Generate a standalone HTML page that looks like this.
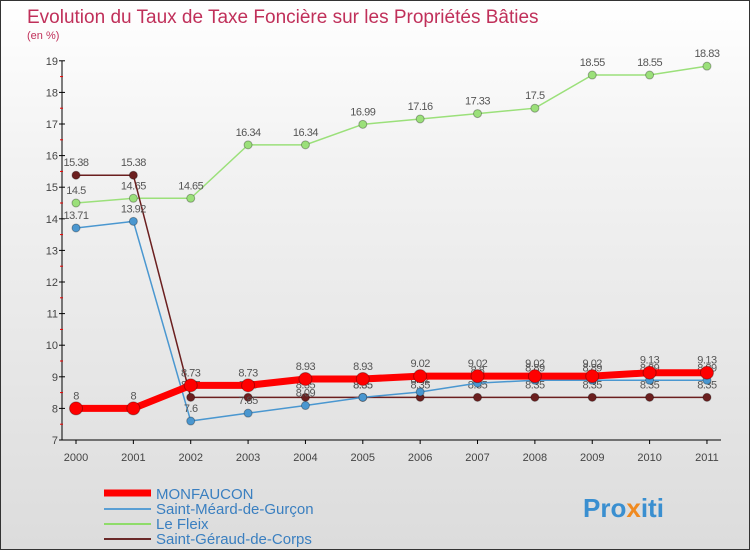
<!DOCTYPE html>
<html><head><meta charset="utf-8"><style>
body{margin:0}
#c{position:relative;width:748px;height:548px;border:1px solid #333;background:linear-gradient(#fff 0%,#f2f2f2 30%,#dcdcdc 100%);font-family:"Liberation Sans",sans-serif;overflow:hidden}
</style></head><body>
<div id="c">
<svg width="748" height="548" id="s">
<text x="26" y="22" font-size="19" fill="#c0305a">Evolution du Taux de Taxe Foncière sur les Propriétés Bâties</text>
<text x="26" y="38" font-size="11" fill="#c0305a">(en %)</text>
<g id="ax"></g><g id="ser"></g>
<g>
<line x1="103" y1="492" x2="150" y2="492" stroke="#f00" stroke-width="7"/>
<text x="155" y="498" font-size="15" fill="#3a7fc0">MONFAUCON</text>
<line x1="103" y1="508" x2="150" y2="508" stroke="#5a9fd4" stroke-width="2"/>
<text x="155" y="513" font-size="15" fill="#3a7fc0">Saint-Méard-de-Gurçon</text>
<line x1="103" y1="523" x2="150" y2="523" stroke="#8fdc6a" stroke-width="2"/>
<text x="155" y="528" font-size="15" fill="#3a7fc0">Le Fleix</text>
<line x1="103" y1="538" x2="150" y2="538" stroke="#6b2a2a" stroke-width="2"/>
<text x="155" y="543" font-size="15" fill="#3a7fc0">Saint-Géraud-de-Corps</text>
</g>
<text x="582" y="516" font-size="26" font-weight="bold" fill="#3a8fd0">Pro<tspan fill="#f08a20">x</tspan>iti</text>
</svg>
</div>
<script>
const years=["2000","2001","2002","2003","2004","2005","2006","2007","2008","2009","2010","2011"];
const yTicks=[7,8,9,10,11,12,13,14,15,16,17,18,19];
const monfaucon=[8,8,8.73,8.73,8.93,8.93,9.02,9.02,9.02,9.02,9.13,9.13];
const saintMeard=[13.71,13.92,7.6,7.85,8.09,8.35,8.52,8.8,8.89,8.89,8.89,8.89];
const leFleix=[14.5,14.65,14.65,16.34,16.34,16.99,17.16,17.33,17.5,18.55,18.55,18.83];
const saintGeraud=[15.38,15.38,8.35,8.35,8.35,8.35,8.35,8.35,8.35,8.35,8.35,8.35];
const NS="http://www.w3.org/2000/svg";
const X=i=>75+i*57.36, Y=v=>439-(v-7)*31.6;
function mk(t,a,p){const e=document.createElementNS(NS,t);for(const k in a)e.setAttribute(k,a[k]);p.appendChild(e);return e;}
const ax=document.getElementById('ax'),ser=document.getElementById('ser');
const yl=mk('line',{x1:61,y1:Y(19),x2:61,y2:Y(7),stroke:'#000'},ax);


const xl=mk('line',{x1:61,y1:Y(7),x2:720,y2:Y(7),stroke:'#000'},ax);


yTicks.forEach(v=>{
 mk('line',{x1:58,y1:Y(v),x2:64,y2:Y(v),stroke:'#000'},ax);
 if(v<19)mk('line',{x1:59,y1:Y(v+0.5),x2:62,y2:Y(v+0.5),stroke:'#e00'},ax);
 const t=mk('text',{x:57,y:Y(v)+4,'font-size':11,'text-anchor':'end',fill:'#444'},ax);t.textContent=v;
 
 
});
years.forEach((y,i)=>{
 mk('line',{x1:X(i),y1:Y(7),x2:X(i),y2:Y(7)+4,stroke:'#000'},ax);
 const t=mk('text',{x:X(i),y:Y(7)+21,'font-size':11,'text-anchor':'middle',fill:'#444'},ax);t.textContent=y;
 
 
});
function series(d,col,w,r,name){
 const g=mk('g',{},ser);
 
 
 mk('polyline',{points:d.map((v,i)=>X(i)+','+Y(v)).join(' '),fill:'none',stroke:col,'stroke-width':w},g);
 d.forEach((v,i)=>{
  const c=mk('circle',{cx:X(i),cy:Y(v),r:r,fill:col,stroke:'rgba(0,0,0,0.3)'},g);
  
  
  const t=mk('text',{x:X(i),y:Y(v)-9,'font-size':11,'text-anchor':'middle',fill:'#555','letter-spacing':'-0.5'},g);t.textContent=v;
  
  
 });
}
series(leFleix,'#9be07a',1.5,4,'series-le-fleix');
series(saintGeraud,'#6b1f1f',1.5,4,'series-saint-geraud');
series(saintMeard,'#4a97d0',1.5,4,'series-saint-meard');
series(monfaucon,'#f00',7,6.5,'series-monfaucon');
</script>
</body></html>
